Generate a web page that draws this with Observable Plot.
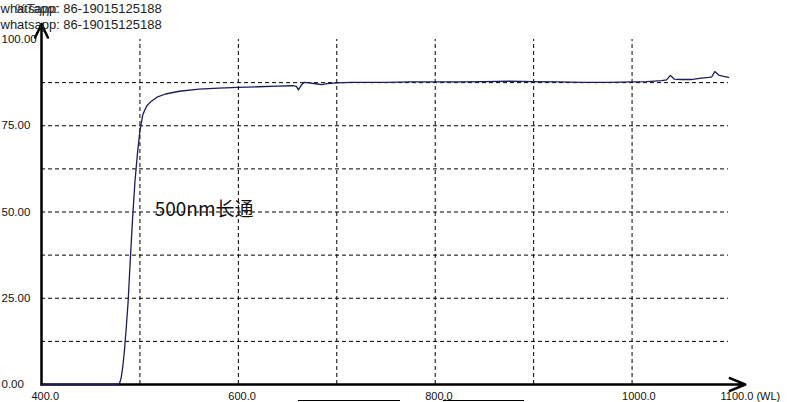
<!DOCTYPE html>
<html>
<head>
<meta charset="utf-8">
<script src="https://cdn.jsdelivr.net/npm/d3@7"></script>
<script src="https://cdn.jsdelivr.net/npm/@observablehq/plot@0.6"></script>
<style>
  html, body { margin: 0; padding: 0; background: #fff; }
  #wrap { position: relative; width: 797px; height: 402px; overflow: hidden; }
  .ul { position: absolute; height: 1px; background: #000; top: 400px; }
</style>
</head>
<body>
<div id="wrap"></div>
<script>
// Wavelength (nm) and transmission (%)
const wavelengths = [400, 450, 478, 479.5, 481, 482.5, 484, 486, 488, 490, 492.5, 495, 497.5, 500, 503, 507, 512, 518, 526, 540, 560, 580, 600, 620, 640, 655, 659, 661, 664, 667, 672, 680, 685, 690, 694, 700, 714, 730, 750, 775, 800, 825, 850, 875, 900, 925, 950, 975, 1000, 1015, 1030, 1035, 1039, 1043, 1050, 1060, 1070, 1078, 1081, 1084, 1088, 1092, 1098];
const transmission = [0, 0, 0, 0.5, 2, 5, 9, 16, 24, 35, 48, 59, 67, 73.5, 78.3, 80.8, 82.2, 83.4, 84.2, 85.0, 85.6, 85.9, 86.1, 86.3, 86.5, 86.6, 86.4, 85.4, 86.8, 87.6, 87.4, 87.1, 86.9, 87.2, 87.3, 87.4, 87.6, 87.6, 87.6, 87.7, 87.7, 87.7, 87.8, 87.9, 87.8, 87.7, 87.6, 87.6, 87.7, 87.8, 88.1, 88.3, 89.6, 88.5, 88.4, 88.4, 88.8, 89.0, 89.2, 90.7, 89.7, 89.4, 89.0];

const yLabelTicks = [0, 25, 50, 75, 100];
const yGridTicks = [12.5, 25, 37.5, 50, 62.5, 75, 87.5];
const xGridTicks = [500, 600, 700, 800, 900, 1000];
const xLabelTicks = [400, 600, 800, 1000, 1100];
const xLabelSuffix = {1100: " (WL)"};
const gridXEnd = 1098;
const xAxisEnd = 1115;
const yAxisEnd = 104.5;
const annotation = {wl: 515, value: 50.7, text: "500nm长通"};
const headerLine1 = "whatsapp: 86-19015125188";
const headerLine2 = "whatsapp: 86-19015125188";
const headerOverlay = "%Tapp:";

const data = wavelengths.map((w, i) => ({wl: w, t: transmission[i]}));
const font = "'Liberation Sans', Arial, sans-serif";

const chart = Plot.plot({
  width: 797,
  height: 402,
  marginLeft: 41,
  marginRight: 67,
  marginTop: 39,
  marginBottom: 18,
  style: {background: "#fff", fontFamily: font},
  x: {domain: [400, 1100], axis: null},
  y: {domain: [0, 100], axis: null},
  marks: [
    Plot.ruleY(yGridTicks, {x1: 400, x2: gridXEnd, stroke: "#000", strokeWidth: 1, strokeDasharray: "4,3"}),
    Plot.ruleX(xGridTicks, {y1: 0, y2: 100, stroke: "#000", strokeWidth: 1, strokeDasharray: "4,3"}),
    Plot.arrow([{x1: 400, y1: 0, x2: xAxisEnd, y2: 0}], {x1: "x1", y1: "y1", x2: "x2", y2: "y2", stroke: "#000", strokeWidth: 2.5, headLength: 10, headAngle: 45}),
    Plot.arrow([{x1: 400, y1: 0, x2: 400, y2: yAxisEnd}], {x1: "x1", y1: "y1", x2: "x2", y2: "y2", stroke: "#000", strokeWidth: 2.5, headLength: 9, headAngle: 50}),
    Plot.line(data, {x: "wl", y: "t", stroke: "#1c1c5c", strokeWidth: 1.3}),
    Plot.text(yLabelTicks, {y: d => d, frameAnchor: "left", dx: -40, textAnchor: "start", lineAnchor: "middle", text: d => d.toFixed(2), fontSize: 11.5, fill: "#111"}),
    Plot.text(xLabelTicks, {x: d => d, frameAnchor: "bottom", dx: -10, dy: 12, textAnchor: "start", lineAnchor: "middle", text: d => d.toFixed(1) + (xLabelSuffix[d] || ""), fontSize: 11, fill: "#111"}),
    Plot.text([annotation], {x: "wl", y: "value", text: "text", textAnchor: "start", lineAnchor: "middle", fontSize: 19, fontFamily: "'Noto Sans CJK SC', sans-serif", fill: "#111"}),
    Plot.text([headerLine1], {frameAnchor: "top-left", dx: -41, dy: -31, text: d => d, textAnchor: "start", lineAnchor: "middle", fontSize: 13, fill: "#222"}),
    Plot.text([headerOverlay], {frameAnchor: "top-left", dx: -27, dy: -31, text: d => d, textAnchor: "start", lineAnchor: "middle", fontSize: 13, fontStyle: "italic", fill: "#333"}),
    Plot.text([headerLine2], {frameAnchor: "top-left", dx: -41, dy: -15, text: d => d, textAnchor: "start", lineAnchor: "middle", fontSize: 13, fill: "#222"})
  ]
});

const wrap = document.getElementById("wrap");
wrap.appendChild(chart);

// hyperlink-like underline strokes at the bottom edge
const underlines = [[298, 102], [443, 81]];
underlines.forEach(([l, w]) => {
  const d = document.createElement("div");
  d.className = "ul";
  d.style.left = l + "px";
  d.style.width = w + "px";
  wrap.appendChild(d);
});
</script>
</body>
</html>
